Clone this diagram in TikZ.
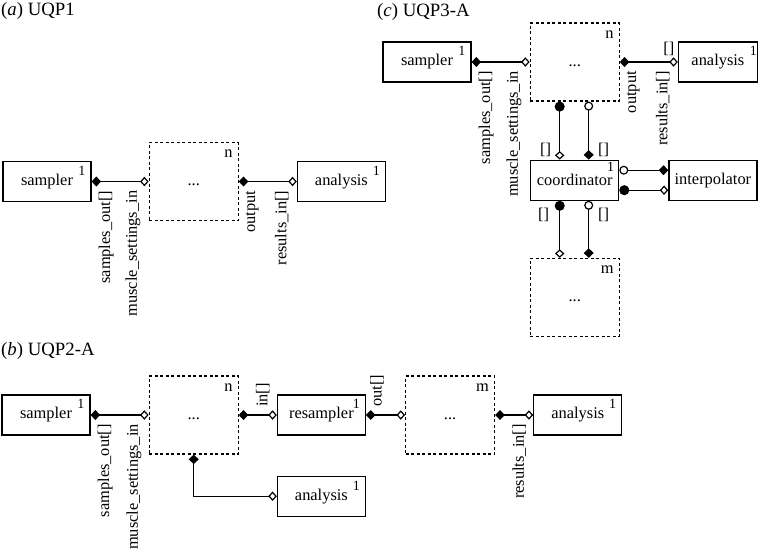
\documentclass[tikz,border=0pt]{standalone}
\usepackage{fontspec}
\setmainfont{Liberation Serif}
\usetikzlibrary{arrows.meta,positioning}
\tikzset{
  comp/.style={draw, line width=1.2pt, minimum width=88pt, minimum height=40pt, inner sep=0pt},
  one/.style={font=\fontsize{14}{16}\selectfont, inner sep=0pt, anchor=north east},
  single/.style={label={[one, xshift=#1, yshift=-5pt]north east:1}},
  single/.default=-6pt,
  ensemble/.style={draw, dash pattern=on 3pt off 2.5pt, line width=1.2pt, minimum width=89pt, minimum height=78pt,
    inner sep=0pt, text height=8pt, text depth=0pt,
    label={[inner sep=0pt, anchor=north east, xshift=-6pt, yshift=-8pt]north east:#1}},
  paneltitle/.style={anchor=west, inner sep=0pt, font=\fontsize{18.8}{22}\selectfont},
  outport/.style={rotate=90, anchor=north east, inner sep=0pt},
  inport/.style={rotate=90, anchor=south east, inner sep=0pt},
  brk/.style={inner sep=0pt},
  link/.style={line width=1.2pt, {Diamond[length=9.5pt,width=10pt]}-{Diamond[open,length=8.5pt,width=9.5pt]}},
  fclink/.style={line width=1.2pt, {Circle[length=10pt]}-{Diamond[open,length=8.5pt,width=9.5pt]}},
  oclink/.style={line width=1.2pt, {Circle[open,length=9pt]}-{Diamond[length=9.5pt,width=10pt]}}
}
\begin{document}
\begin{tikzpicture}[x=1pt, y=-1pt, font=\fontsize{16.4}{19}\selectfont]
  \useasboundingbox (0,0) rectangle (768,552);

  % (a) UQP1
  \node[paneltitle] (ta) at (1,11) {(\textit{a}) UQP1};
  \node[comp, single] (sampA) at (47,181.5) {sampler};
  \node[ensemble=n, right=57pt of sampA] (nA) {...};
  \node[comp, single, right=58pt of nA] (anaA) {analysis};
  \draw[link] (sampA) -- (nA);
  \draw[link] (nA) -- (anaA);
  \node[outport] (aso) at ([shift={(7,9)}]sampA.east) {samples\_out[]};
  \node[inport] (ams) at ([shift={(-8,9)}]nA.west) {muscle\_settings\_in};
  \node[outport] (aout) at ([shift={(7,9)}]nA.east) {output};
  \node[inport] (ares) at ([shift={(-8,9)}]anaA.west) {results\_in[]};

  % (c) UQP3-A
  \node[paneltitle] (tc) at (377,12) {(\textit{c}) UQP3-A};
  \node[comp, single] (sampC) at (427,62) {sampler};
  \node[ensemble=n, right=58pt of sampC] (nC) {...};
  \node[comp, single=-1pt, minimum width=79pt, right=58pt of nC] (anaC) {analysis};
  \node[comp, label={[one, xshift=-5pt, yshift=-2pt]north east:1}, below=58pt of nC] (coordC) {coordinator};
  \node[comp, right=49pt of coordC] (interpC) {interpolator};
  \node[ensemble=m, below=57pt of coordC] (mC) {...};
  \draw[link] (sampC) -- (nC);
  \draw[link] (nC) -- (anaC);
  \draw[fclink] ([xshift=-15pt]nC.south) -- ([xshift=-15pt]coordC.north);
  \draw[oclink] ([xshift=14pt]nC.south) -- ([xshift=14pt]coordC.north);
  \draw[fclink] ([xshift=-15pt]coordC.south) -- ([xshift=-15pt]mC.north);
  \draw[oclink] ([xshift=14pt]coordC.south) -- ([xshift=14pt]mC.north);
  \draw[oclink] ([yshift=10pt]coordC.east) -- ([yshift=10pt]interpC.west);
  \draw[fclink] ([yshift=-10pt]coordC.east) -- ([yshift=-10pt]interpC.west);
  \node[outport] (cso) at ([shift={(7,9)}]sampC.east) {samples\_out[]};
  \node[inport] (cms) at ([shift={(-8,9)}]nC.west) {muscle\_settings\_in};
  \node[outport] (cout) at ([shift={(7,9)}]nC.east) {output};
  \node[inport] (cres) at ([shift={(-8,9)}]anaC.west) {results\_in[]};
  \node[brk] (cb0) at ([shift={(-9,-13)}]anaC.west) {[]};
  \node[brk] (cb1) at ([shift={(-29,-10)}]coordC.north) {[]};
  \node[brk] (cb2) at ([shift={(29,-10)}]coordC.north) {[]};
  \node[brk] (cb3) at ([shift={(-31,14)}]coordC.south) {[]};
  \node[brk] (cb4) at ([shift={(29,14)}]coordC.south) {[]};

  % (b) UQP2-A
  \node[paneltitle] (tb) at (1,351) {(\textit{b}) UQP2-A};
  \node[comp, single] (sampB) at (46,415) {sampler};
  \node[ensemble=n, right=58pt of sampB] (nB) {...};
  \node[comp, single, right=38pt of nB] (resB) {resampler};
  \node[ensemble=m, right=39pt of resB] (mB) {...};
  \node[comp, single, right=38pt of mB] (anaB) {analysis};
  \node[comp, single, below=40pt of resB] (ana2B) {analysis};
  \draw[link] (sampB) -- (nB);
  \draw[link] (nB) -- (resB);
  \draw[link] (resB) -- (mB);
  \draw[link] (mB) -- (anaB);
  \draw[link] (nB.south) |- (ana2B.west);
  \node[outport] (bso) at ([shift={(7,9)}]sampB.east) {samples\_out[]};
  \node[inport] (bms) at ([shift={(-7,9)}]nB.west) {muscle\_settings\_in};
  \node[rotate=90, anchor=south west, inner sep=0pt] (bin) at ([shift={(-7,-8)}]resB.west) {in[]};
  \node[rotate=90, anchor=north west, inner sep=0pt] (bout) at ([shift={(4,-8)}]resB.east) {out[]};
  \node[inport] (bres) at ([shift={(-7,9)}]anaB.west) {results\_in[]};
\end{tikzpicture}
\end{document}
